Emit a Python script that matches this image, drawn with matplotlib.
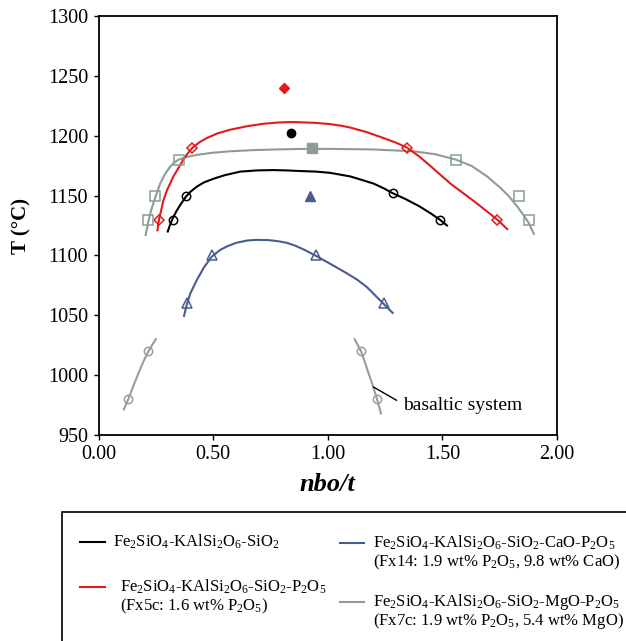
import numpy as np
import matplotlib
matplotlib.use("Agg")
import matplotlib.pyplot as plt
from matplotlib.patches import Rectangle
from matplotlib.lines import Line2D

plt.rcParams['font.family'] = 'Liberation Serif'
plt.rcParams['mathtext.fontset'] = 'custom'
plt.rcParams['mathtext.rm'] = 'Liberation Serif'
plt.rcParams['mathtext.it'] = 'Liberation Serif:italic'
plt.rcParams['mathtext.bf'] = 'Liberation Serif:bold'

BLACK = '#000000'
RED = '#e31a1c'
BLUE = '#4a5b8e'
GREEN = '#8c9d93'
GREY = '#9c9c9c'

# fitted curves
black_x = [0.302, 0.313, 0.324, 0.34, 0.356, 0.381, 0.40, 0.429, 0.46, 0.501, 0.55, 0.618, 0.69, 0.763,
           0.82, 0.88, 0.95, 1.01, 1.098, 1.15, 1.20, 1.245, 1.283, 1.34, 1.40, 1.45, 1.488, 1.52]
black_t = [1120, 1126, 1131, 1137, 1142, 1149, 1153, 1157.5, 1161, 1164, 1167, 1170, 1171, 1171.3,
           1171, 1170.5, 1170, 1169, 1166, 1163, 1160, 1156, 1152, 1147, 1141, 1135, 1130, 1125]

red_x = [0.257, 0.264, 0.275, 0.283, 0.30, 0.327, 0.35, 0.370, 0.39, 0.41, 0.44, 0.472, 0.52, 0.574, 0.65,
         0.72, 0.78, 0.836, 0.88, 0.95, 1.01, 1.06, 1.098, 1.17, 1.244, 1.30, 1.346, 1.40, 1.44, 1.535,
         1.64, 1.739, 1.783]
red_t = [1121, 1130, 1139, 1146, 1155, 1166, 1173.5, 1180, 1185.5, 1190, 1194.5, 1198, 1202, 1205, 1208,
         1210, 1211, 1211.4, 1211.2, 1210.7, 1209.7, 1208.3, 1206.8, 1203, 1198, 1194, 1190, 1182.5, 1176, 1160,
         1145, 1130, 1122]

green_x = [0.206, 0.217, 0.23, 0.247, 0.269, 0.29, 0.312, 0.33, 0.349, 0.38, 0.429, 0.50, 0.574, 0.68, 0.79,
           0.90, 1.01, 1.20, 1.375, 1.47, 1.56, 1.63, 1.695, 1.75, 1.79, 1.83, 1.86, 1.877, 1.899]
green_t = [1117, 1128, 1138, 1148, 1160, 1168, 1174, 1177.5, 1180, 1182, 1184, 1185.8, 1187, 1188, 1188.6,
           1189, 1189, 1188.5, 1187, 1184.5, 1180, 1174.5, 1166, 1157, 1149.5, 1140, 1132, 1127, 1118]

blue_x = [0.373, 0.385, 0.40, 0.429, 0.46, 0.494, 0.53, 0.56, 0.60, 0.65, 0.69, 0.74, 0.78, 0.822, 0.86,
          0.90, 0.95, 1.02, 1.084, 1.13, 1.171, 1.21, 1.244, 1.283]
blue_t = [1049.4, 1059, 1068, 1079.5, 1090, 1099, 1104.5, 1107.5, 1110.5, 1112.5, 1113, 1112.8, 1112,
          1110.5, 1108, 1104.5, 1099.5, 1092, 1085, 1079.5, 1073.5, 1066, 1059.5, 1052]

basalt_l_x = [0.111, 0.13, 0.15, 0.174, 0.195, 0.218, 0.235, 0.25]
basalt_l_t = [971.4, 980, 990, 1001.5, 1011, 1020, 1025.5, 1030]
basalt_r_x = [1.117, 1.13, 1.145, 1.16, 1.178, 1.197, 1.215, 1.232]
basalt_r_t = [1030, 1025.5, 1020, 1012, 1001.5, 991, 980, 968]

# experiments (open symbols)
black_pts_x = [0.324, 0.381, 1.283, 1.488]
black_pts_t = [1130, 1150, 1152, 1130]
red_pts_x = [0.264, 0.41, 1.346, 1.739]
red_pts_t = [1130, 1190, 1190, 1130]
green_pts_x = [0.217, 0.247, 0.349, 1.56, 1.833, 1.877]
green_pts_t = [1130, 1150, 1180, 1180, 1150, 1130]
blue_pts_x = [0.385, 0.494, 0.95, 1.244]
blue_pts_t = [1060, 1100, 1100, 1060]
basalt_pts_x = [0.13, 0.218, 1.145, 1.215]
basalt_pts_t = [980, 1020, 1020, 980]

# filled symbols
black_max = (0.839, 1202.5)
red_max = (0.807, 1240)
green_max = (0.931, 1190)
blue_max = (0.921, 1150)

fig = plt.figure(figsize=(6.26, 6.41), dpi=100)
ax = fig.add_axes([98.5/626, 1-435/641, 458.5/626, 419/641])

lw = 1.5
ax.plot(basalt_l_x, basalt_l_t, color=GREY, lw=lw)
ax.plot(basalt_r_x, basalt_r_t, color=GREY, lw=lw)
ax.plot(green_x, green_t, color=GREEN, lw=lw)
ax.plot(black_x, black_t, color=BLACK, lw=lw)
ax.plot(red_x, red_t, color=RED, lw=lw)
ax.plot(blue_x, blue_t, color=BLUE, lw=lw)

ax.plot(basalt_pts_x, basalt_pts_t, 'o', ms=6, mfc='none', mec=GREY, mew=1.1)
ax.plot(black_pts_x, black_pts_t, 'o', ms=6, mfc='none', mec=BLACK, mew=1.1)
ax.plot(red_pts_x, red_pts_t, 'D', ms=5, mfc='none', mec=RED, mew=1.1)
ax.plot(green_pts_x, green_pts_t, 's', ms=7.5, mfc='none', mec=GREEN, mew=1.1)
ax.plot(blue_pts_x, blue_pts_t, '^', ms=7, mfc='none', mec=BLUE, mew=1.1)

ax.plot(*black_max, 'o', ms=6, color=BLACK)
ax.plot(*red_max, 'D', ms=5, color=RED)
ax.plot(*green_max, 's', ms=7, color=GREEN)
ax.plot(*blue_max, '^', ms=7, color=BLUE)

# basaltic system label with leader
ax.plot([1.20, 1.30], [990, 979], color=BLACK, lw=1)
ax.text(1.33, 975, 'basaltic system', fontsize=14, va='center', ha='left')

ax.set_xlim(0, 2)
ax.set_ylim(950, 1300)
ax.set_xticks(np.arange(0, 2.01, 0.5))
ax.set_yticks(np.arange(950, 1301, 50))
ax.set_xticklabels(['%.2f' % v for v in np.arange(0, 2.01, 0.5)])
ax.tick_params(direction='out', length=3.5, width=1, labelsize=14.5, pad=4)
for s in ax.spines.values():
    s.set_linewidth(1.3)

ax.set_xlabel('nbo/t', fontsize=19, fontweight='bold', fontstyle='italic', labelpad=6)
ax.set_ylabel('T (°C)', fontsize=15, fontweight='bold', labelpad=12)

# legend box (runs off the figure edges)
fig.patches.append(Rectangle((62/626, -0.1), 1.0, 0.1 + (641-512)/641, transform=fig.transFigure,
                             fill=False, edgecolor=BLACK, lw=1.2, clip_on=False))

def fx(px):
    return px/626

def fy(py):
    return 1 - py/641

leg_fs = 12
entries = [
    (80, 105, 542, 113, [r'Fe$_2$SiO$_4$-KAlSi$_2$O$_6$-SiO$_2$'], BLACK),
    (80, 105, 587, 120, [r'Fe$_2$SiO$_4$-KAlSi$_2$O$_6$-SiO$_2$-P$_2$O$_5$',
                         r'(Fx5c: 1.6 wt% P$_2$O$_5$)'], RED),
    (340, 364, 543, 373, [r'Fe$_2$SiO$_4$-KAlSi$_2$O$_6$-SiO$_2$-CaO-P$_2$O$_5$',
                          r'(Fx14: 1.9 wt% P$_2$O$_5$, 9.8 wt% CaO)'], BLUE),
    (340, 364, 602, 373, [r'Fe$_2$SiO$_4$-KAlSi$_2$O$_6$-SiO$_2$-MgO-P$_2$O$_5$',
                          r'(Fx7c: 1.9 wt% P$_2$O$_5$, 5.4 wt% MgO)'], GREEN),
]
for x0, x1, y, tx, lines, col in entries:
    fig.add_artist(Line2D([fx(x0), fx(x1)], [fy(y), fy(y)], color=col, lw=1.5,
                          transform=fig.transFigure))
    for i, line in enumerate(lines):
        fig.text(fx(tx), fy(y + i*19), line, fontsize=leg_fs, va='center', ha='left')

fig.savefig('out.png', dpi=100)
